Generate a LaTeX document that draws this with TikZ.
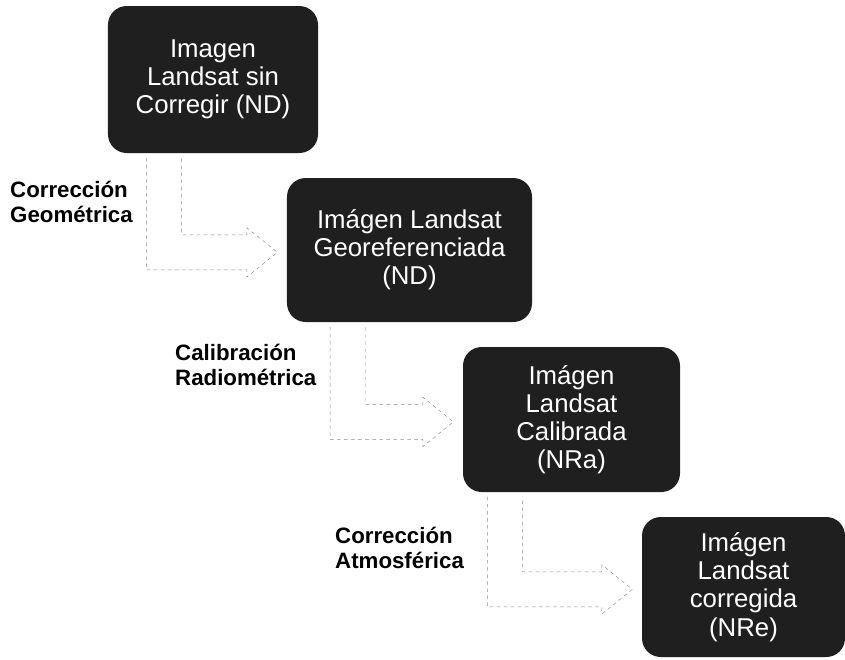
\documentclass[tikz,border=0pt]{standalone}
\usepackage{fontspec}
\setmainfont{Liberation Sans}
\usetikzlibrary{calc}

% bent step arrow: #1 = inset from left side, #2 = upper box, #3 = lower box
\newcommand{\bentarrow}[3]{%
  \draw[conn] let \p1 = (#2.south west), \p2 = (#3.west) in
    (\x1+#1, \y1-4pt) -- (\x1+#1, \y2-17pt) -- (\x2-34pt, \y2-17pt)
    -- (\x2-34pt, \y2-23pt) -- (\x2-8pt, \y2-2pt) -- (\x2-34pt, \y2+19pt)
    -- (\x2-34pt, \y2+13pt) -- (\x1+#1+30pt, \y2+13pt) -- (\x1+#1+30pt, \y1-4pt);}

\begin{document}
\begin{tikzpicture}[x=0.03cm, y=-0.03cm,
    conn/.style={draw=black!45, dash pattern=on 3pt off 3pt}]

\useasboundingbox (0,0) rectangle (845,659);

\begin{scope}[img/.style = {rectangle, rounded corners=16pt, fill=black!88, text=white,
                            align=center, font=\fontsize{22}{24}\selectfont}]
    \node[img, minimum width=6.3cm, minimum height=4.41cm] (1) at (213,79.5) {Imagen\\Landsat sin\\Corregir (ND)};
    \node[img, minimum width=7.35cm, minimum height=4.32cm] (2) at (409.5,250) {Imágen Landsat\\Georeferenciada\\(ND)};
    \node[img, minimum width=6.51cm, minimum height=4.35cm] (3) at (571.5,419.5) {Imágen\\Landsat\\Calibrada\\(NRa)};
    \node[img, minimum width=6.09cm, minimum height=4.2cm] (4) at (743.5,587) {Imágen\\Landsat\\corregida\\(NRe)};
\end{scope}

\begin{scope}[lab/.style = {anchor=north west, inner sep=0pt, align=left,
                            font=\bfseries\fontsize{19}{21.5}\selectfont}]
    \node[lab] (geo) at (10,181) {Corrección\\Geométrica};
    \node[lab] (rad) at (175,344) {Calibración\\Radiométrica};
    \node[lab] (atm) at (335,527) {Corrección\\Atmosférica};
\end{scope}

\bentarrow{33pt}{1}{2}
\bentarrow{37pt}{2}{3}
\bentarrow{21pt}{3}{4}

\end{tikzpicture}
\end{document}
